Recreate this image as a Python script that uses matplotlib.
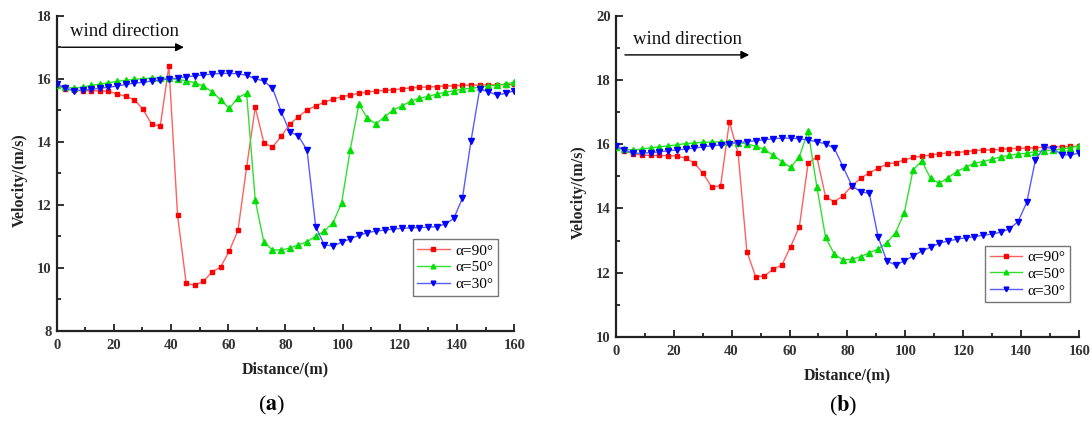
import numpy as np
import matplotlib
matplotlib.use("Agg")
import matplotlib.pyplot as plt
from matplotlib.ticker import MultipleLocator
from matplotlib.lines import Line2D

# sample positions along the street (m), 54 stations
distance = np.linspace(0, 160, 54)

# ---- panel (a)
a_90 = [15.80, 15.68, 15.64, 15.62, 15.62, 15.62, 15.60, 15.52, 15.44, 15.33,
        15.03, 14.56, 14.50, 16.41, 11.68, 9.51, 9.45, 9.58, 9.87, 10.03,
        10.54, 11.19, 13.19, 15.09, 13.97, 13.83, 14.17, 14.56, 14.80, 15.01,
        15.14, 15.26, 15.35, 15.43, 15.48, 15.54, 15.58, 15.61, 15.63, 15.65,
        15.68, 15.71, 15.73, 15.74, 15.75, 15.77, 15.78, 15.79, 15.80, 15.80,
        15.81, 15.81, 15.81, 15.82]
a_50 = [15.80, 15.73, 15.70, 15.73, 15.79, 15.83, 15.87, 15.92, 15.95, 15.98,
        16.00, 16.02, 16.02, 16.01, 15.98, 15.94, 15.87, 15.77, 15.59, 15.33,
        15.06, 15.40, 15.54, 12.15, 10.82, 10.57, 10.57, 10.63, 10.73, 10.83,
        11.01, 11.17, 11.43, 12.05, 13.74, 15.19, 14.75, 14.57, 14.80, 15.01,
        15.14, 15.29, 15.38, 15.44, 15.51, 15.57, 15.62, 15.67, 15.70, 15.73,
        15.77, 15.80, 15.83, 15.89]
a_30 = [15.83, 15.70, 15.62, 15.64, 15.66, 15.70, 15.73, 15.77, 15.82, 15.86,
        15.89, 15.93, 15.96, 15.99, 16.02, 16.06, 16.09, 16.12, 16.15, 16.17,
        16.17, 16.16, 16.11, 16.00, 15.93, 15.70, 14.96, 14.32, 14.18, 13.74,
        11.31, 10.73, 10.70, 10.81, 10.92, 11.03, 11.12, 11.17, 11.20, 11.23,
        11.26, 11.27, 11.28, 11.29, 11.31, 11.39, 11.57, 12.21, 14.04, 15.67,
        15.59, 15.48, 15.54, 15.62]

# ---- panel (b)
b_90 = [15.92, 15.80, 15.70, 15.66, 15.65, 15.65, 15.64, 15.63, 15.57, 15.41,
        15.09, 14.66, 14.71, 16.70, 15.72, 12.66, 11.88, 11.90, 12.11, 12.24,
        12.81, 13.43, 15.41, 15.61, 14.36, 14.21, 14.40, 14.70, 14.94, 15.11,
        15.25, 15.38, 15.43, 15.51, 15.59, 15.63, 15.66, 15.70, 15.73, 15.74,
        15.77, 15.80, 15.82, 15.82, 15.84, 15.86, 15.87, 15.88, 15.89, 15.91,
        15.92, 15.92, 15.93, 15.94]
b_50 = [15.92, 15.84, 15.82, 15.85, 15.89, 15.92, 15.95, 15.98, 16.02, 16.04,
        16.06, 16.07, 16.07, 16.06, 16.05, 16.01, 15.94, 15.84, 15.66, 15.46,
        15.28, 15.61, 16.41, 14.68, 13.10, 12.58, 12.40, 12.42, 12.50, 12.62,
        12.74, 12.93, 13.25, 13.87, 15.20, 15.48, 14.94, 14.78, 14.96, 15.15,
        15.28, 15.41, 15.46, 15.53, 15.61, 15.65, 15.70, 15.72, 15.77, 15.80,
        15.82, 15.85, 15.89, 15.95]
b_30 = [15.94, 15.82, 15.72, 15.72, 15.74, 15.76, 15.80, 15.82, 15.85, 15.88,
        15.92, 15.95, 15.98, 16.02, 16.05, 16.08, 16.11, 16.14, 16.17, 16.19,
        16.19, 16.17, 16.13, 16.08, 16.01, 15.87, 15.30, 14.71, 14.52, 14.47,
        13.12, 12.37, 12.24, 12.37, 12.52, 12.68, 12.79, 12.92, 12.99, 13.04,
        13.09, 13.12, 13.17, 13.20, 13.26, 13.36, 13.59, 14.19, 15.52, 15.91,
        15.86, 15.68, 15.66, 15.73]

labels = ["α=90°", "α=50°", "α=30°"]
# marker, line colour, marker colour, marker size
styles = [("s", "#ff6060", "#ff0000", 3.3),
          ("^", "#30e030", "#00e000", 4.0),
          ("v", "#5a5aff", "#0000ff", 4.0)]

plt.rcParams["font.family"] = ["Liberation Serif", "DejaVu Serif"]
plt.rcParams["mathtext.fontset"] = "stix"

TICK_C = "#333333"


def draw_panel(ax, curves, ylim, arrow, text_xy, legend_anchor, ylab_y):
    for y, (mk, lc, mc, ms) in zip(curves, styles):
        ax.plot(distance, y, color=lc, lw=1.0, marker=mk, ms=ms,
                markerfacecolor=mc, markeredgecolor=mc, zorder=3)

    ax.set_xlim(0, 160)
    ax.set_ylim(*ylim)
    ax.xaxis.set_major_locator(MultipleLocator(20))
    ax.xaxis.set_minor_locator(MultipleLocator(10))
    ax.yaxis.set_major_locator(MultipleLocator(2))
    ax.yaxis.set_minor_locator(MultipleLocator(1))
    ax.tick_params(which="both", direction="in", width=1.3, colors="#222222",
                   labelcolor=TICK_C, labelsize=10.5)
    ax.tick_params(which="major", length=5)
    ax.tick_params(which="minor", length=3)
    ax.tick_params(axis="x", pad=6)
    for t in ax.get_xticklabels() + ax.get_yticklabels():
        t.set_fontweight("bold")
    for s in ("top", "right"):
        ax.spines[s].set_visible(False)
    for s in ("left", "bottom"):
        ax.spines[s].set_linewidth(1.6)
        ax.spines[s].set_color("#222222")

    ax.set_xlabel("Distance/(m)", fontsize=11.5, fontweight="bold",
                  color="#222222")
    ax.set_ylabel("Velocity/(m/s)", fontsize=11.5, fontweight="bold",
                  color="#222222")
    ax.xaxis.set_label_coords(0.5, -0.095)
    ax.yaxis.set_label_coords(-0.062, ylab_y)

    (x0, x1, ya) = arrow
    ax.annotate("", xy=(x1, ya), xytext=(x0, ya),
                arrowprops=dict(arrowstyle="-|>", color="black", lw=1.0,
                                mutation_scale=12, shrinkA=0, shrinkB=0))
    ax.text(text_xy[0], text_xy[1], "wind direction", fontsize=13.5,
            ha="center", va="center", color="#111111")

    handles = [Line2D([], [], color=lc, lw=1.0, marker=mk, ms=ms - 0.6,
                      markerfacecolor=mc, markeredgecolor=mc)
               for (mk, lc, mc, ms) in styles]
    leg = ax.legend(handles, labels, loc="upper right",
                    bbox_to_anchor=legend_anchor, borderaxespad=0,
                    fontsize=11, frameon=True, fancybox=False,
                    handlelength=2.1, handletextpad=0.4, labelspacing=0.2,
                    borderpad=0.3)
    leg.get_frame().set_edgecolor("#555555")
    leg.get_frame().set_linewidth(1.0)


fig = plt.figure(figsize=(10.92, 4.21), dpi=100)
ax_a = fig.add_axes([0.0519, 0.2138, 0.4190, 0.7489])
ax_b = fig.add_axes([0.5638, 0.1995, 0.4245, 0.7632])

draw_panel(ax_a, [a_90, a_50, a_30], (8, 18), (1.7, 44.5, 17.0),
           (23.6, 17.5), (0.965, 0.291), 0.48)
draw_panel(ax_b, [b_90, b_50, b_30], (10, 20), (3.2, 46.1, 18.78),
           (24.8, 19.27), (0.981, 0.284), 0.45)

fig.text(0.249, 0.036, r"($\mathbf{a}$)", fontsize=16, ha="center",
         va="center")
fig.text(0.772, 0.036, r"($\mathbf{b}$)", fontsize=16, ha="center",
         va="center")

fig.savefig("out.png", dpi=100)
